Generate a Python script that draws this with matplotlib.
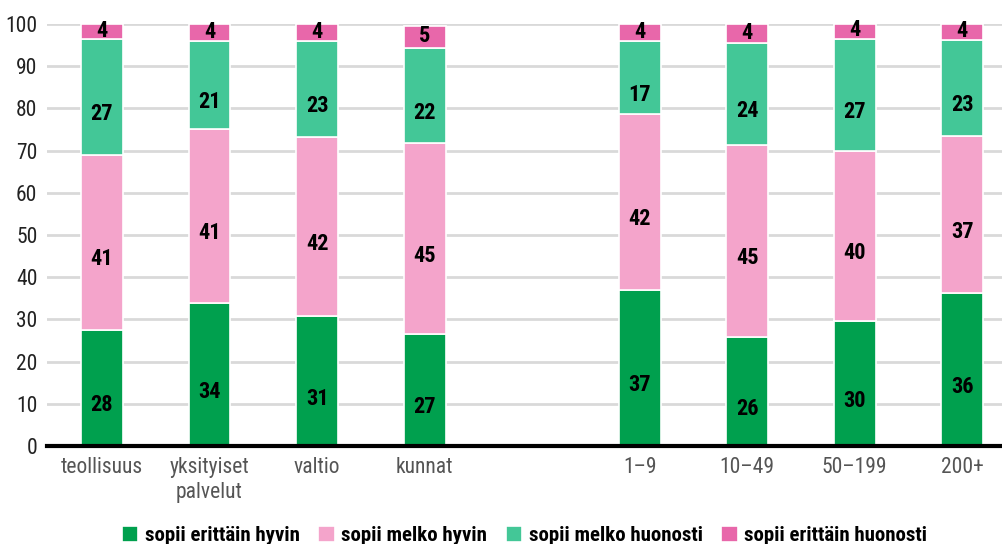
import matplotlib
matplotlib.use("Agg")
import matplotlib.pyplot as plt
from matplotlib import font_manager as fm
import numpy as np

fl = fm.fontManager.ttflist
names = {f.name for f in fl}
stretch = "normal"
fam = None
for cand in ["Liberation Sans Narrow", "Roboto Condensed", "Open Sans Condensed",
             "Noto Sans Condensed", "DejaVu Sans Condensed"]:
    if cand in names:
        fam = cand
        break
if fam is None:
    if any(f.name == "DejaVu Sans" and str(f.stretch) in ("condensed", "semi-condensed", "600", "500") for f in fl):
        fam = "DejaVu Sans"
        stretch = "condensed"
    elif any(f.name == "Roboto" and str(f.stretch) in ("condensed",) for f in fl):
        fam = "Roboto"
        stretch = "condensed"
    else:
        fam = "Roboto" if "Roboto" in names else "DejaVu Sans"
plt.rcParams['font.family'] = [fam, 'DejaVu Sans']
plt.rcParams['font.stretch'] = stretch

categories = ["teollisuus", "yksityiset\npalvelut", "valtio", "kunnat",
              "1–9", "10–49", "50–199", "200+"]
positions = [0, 1, 2, 3, 5, 6, 7, 8]
series_names = ["sopii erittäin hyvin", "sopii melko hyvin",
                "sopii melko huonosti", "sopii erittäin huonosti"]
erittain_hyvin = [27.6, 33.9, 30.7, 26.6, 37.0, 25.9, 29.6, 36.3]
melko_hyvin = [41.4, 41.2, 42.4, 45.2, 41.6, 45.4, 40.3, 37.2]
melko_huonosti = [27.4, 20.9, 22.9, 22.4, 17.4, 24.2, 26.6, 22.6]
erittain_huonosti = [3.6, 4.0, 4.0, 5.4, 4.0, 4.4, 3.5, 3.9]
colors = ["#00a04e", "#f4a4cb", "#43c797", "#e867aa"]
yticks = [0, 10, 20, 30, 40, 50, 60, 70, 80, 90, 100]

fig = plt.figure(figsize=(10.03, 5.44), dpi=100)
ax = fig.add_axes([0.047, 0.180, 0.953, 0.776])

data = [erittain_hyvin, melko_hyvin, melko_huonosti, erittain_huonosti]
bottom = np.zeros(len(categories))
for vals, col, name in zip(data, colors, series_names):
    vals = np.array(vals)
    ax.bar(positions, vals, 0.39, bottom=bottom, color=col,
           edgecolor="white", linewidth=1.2, label=name, zorder=3)
    for x, b, v in zip(positions, bottom, vals):
        if v < 7:
            yc = b + v / 2 + 0.2
        else:
            yc = b + v / 2 - 4.1
        ax.text(x, yc, f"{int(round(v))}", ha="center", va="center",
                fontsize=16, fontweight="bold", color="black", zorder=4)
    bottom += vals

ax.set_xlim(-0.51, 8.38)
ax.set_ylim(0, 100)
ax.set_yticks(yticks)
ax.set_xticks(positions)
ax.set_xticklabels(categories, linespacing=1.25)
ax.tick_params(axis="both", length=0, labelsize=15.5)
ax.tick_params(axis="x", pad=8, labelcolor="#555555")
ax.tick_params(axis="y", pad=7, labelcolor="#222222")
ax.grid(axis="y", color="#d9d9d9", linewidth=2, zorder=0)
for s in ["top", "right", "left"]:
    ax.spines[s].set_visible(False)
ax.spines["bottom"].set_linewidth(3)
ax.spines["bottom"].set_color("black")
ax.spines["bottom"].set_zorder(5)

leg = fig.legend(loc="lower center", bbox_to_anchor=(0.523, -0.037), ncol=4,
                 frameon=False, prop={"size": 15, "weight": "bold"},
                 handlelength=0.8, handleheight=0.8, handletextpad=0.3,
                 columnspacing=0.9)

fig.savefig("out.png", dpi=100)
